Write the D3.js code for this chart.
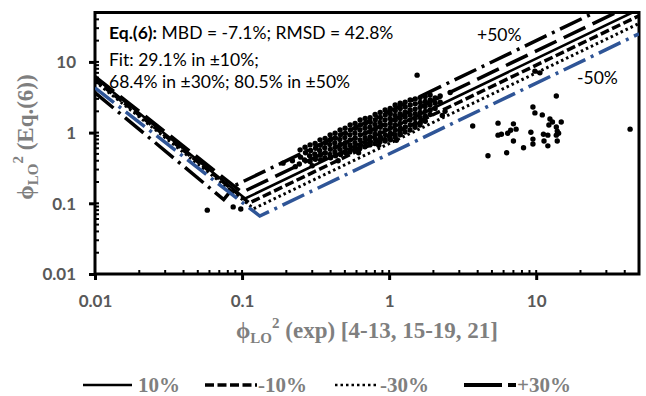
<!DOCTYPE html>
<html>
<head>
<meta charset="utf-8">
<script src="https://cdn.jsdelivr.net/npm/d3@7"></script>
<style>
  body { margin: 0; background: #fff; }
  svg { display: block; }
</style>
</head>
<body>
<div id="chart"></div>
<script>
// Tick values
const majorTicks = [0.01, 0.1, 1, 10];

// Band lines (V shaped, as drawn in the source figure) [x, y]
const plus50 = [[0.01, 3.67], [0.075, 0.113], [0.09, 0.18], [25, 50]];
const plus30 = [[0.01, 6.2], [0.1, 0.143], [35, 50]];
const plus10 = [[0.01, 6.0], [0.105, 0.117], [45, 50]];
const minus10 = [[0.01, 5.6], [0.112, 0.101], [50, 45]];
const minus30 = [[0.01, 5.3], [0.12, 0.084], [50, 35]];
const minus50 = [[0.01, 4.3], [0.132, 0.066], [50, 25]];

// Scattered points [exp, Eq.(6)]
const outliers = [
  [0.058, 0.08], [0.087, 0.089], [0.098, 0.083], [0.19, 0.37], [0.22, 0.40],
  [0.23, 0.33], [0.30, 0.34], [0.45, 0.40], [0.62, 0.52], [0.85, 0.66],
  [1.12, 0.78], [2.4, 2.0], [2.6, 3.7], [2.3, 1.75],
  [1.55, 6.5], [3.7, 1.24], [10.6, 7.0], [9.8, 7.4], [43.5, 1.12],
  [13.7, 3.3], [9.5, 2.3], [9.8, 1.9], [11, 1.78], [12.4, 1.56], [12.9, 1.41],
  [12.2, 1.28], [13.7, 1.2], [14.8, 1.41], [13.9, 1.05], [14.2, 0.98],
  [13.7, 0.92], [13.9, 0.76], [12.0, 0.92], [11.2, 0.95], [11.3, 0.76],
  [12.0, 0.65], [9.5, 0.81], [9.5, 0.69], [9.2, 1.01], [8.2, 0.61],
  [7.0, 0.76], [6.3, 0.52], [7.3, 1.12], [7.0, 1.33], [6.7, 1.08],
  [6.4, 0.98], [5.8, 0.95], [5.5, 0.92], [5.5, 1.36], [4.7, 0.47]
];

// Dense cloud, column by column
const cloud = [
  [0.248, 0.57], [0.25, 0.45], [0.245, 0.36],
  [0.268, 0.62], [0.27, 0.52], [0.266, 0.41],
  [0.29, 0.67], [0.292, 0.56], [0.288, 0.47], [0.29, 0.39],
  [0.314, 0.70], [0.316, 0.60], [0.312, 0.50], [0.315, 0.42],
  [0.339, 0.79], [0.34, 0.66], [0.337, 0.56], [0.34, 0.48], [0.342, 0.41],
  [0.367, 0.83], [0.369, 0.72], [0.365, 0.61], [0.368, 0.52], [0.366, 0.44],
  [0.397, 0.93], [0.399, 0.80], [0.395, 0.68], [0.398, 0.58], [0.396, 0.49], [0.40, 0.44],
  [0.429, 0.98], [0.431, 0.84], [0.427, 0.72], [0.43, 0.62], [0.428, 0.53], [0.432, 0.47],
  [0.464, 1.09], [0.466, 0.93], [0.462, 0.80], [0.465, 0.68], [0.463, 0.58], [0.467, 0.49],
  [0.502, 1.15], [0.504, 0.98], [0.50, 0.85], [0.503, 0.72], [0.501, 0.62], [0.505, 0.52],
  [0.543, 1.28], [0.545, 1.09], [0.541, 0.93], [0.544, 0.79], [0.542, 0.67], [0.546, 0.57], [0.54, 0.53],
  [0.587, 1.35], [0.589, 1.15], [0.585, 0.98], [0.588, 0.84], [0.586, 0.72], [0.59, 0.61], [0.584, 0.57],
  [0.635, 1.51], [0.637, 1.28], [0.633, 1.09], [0.636, 0.93], [0.634, 0.79], [0.638, 0.67], [0.632, 0.60],
  [0.687, 1.58], [0.689, 1.35], [0.685, 1.15], [0.688, 0.98], [0.686, 0.84], [0.69, 0.72], [0.684, 0.63],
  [0.742, 1.62], [0.744, 1.40], [0.74, 1.19], [0.743, 1.02], [0.741, 0.87], [0.745, 0.75], [0.739, 0.67],
  [0.803, 1.80], [0.805, 1.52], [0.801, 1.30], [0.804, 1.11], [0.802, 0.95], [0.806, 0.81], [0.80, 0.70],
  [0.869, 1.93], [0.871, 1.64], [0.867, 1.39], [0.87, 1.19], [0.868, 1.00], [0.872, 0.86], [0.866, 0.74],
  [0.939, 2.09], [0.941, 1.78], [0.937, 1.51], [0.94, 1.28], [0.938, 1.09], [0.942, 0.93], [0.936, 0.80], [0.94, 0.76],
  [1.016, 2.20], [1.018, 1.85], [1.014, 1.58], [1.017, 1.35], [1.015, 1.15], [1.019, 0.98], [1.013, 0.84], [1.02, 0.79],
  [1.099, 2.46], [1.101, 2.05], [1.097, 1.75], [1.10, 1.49], [1.098, 1.27], [1.102, 1.08], [1.096, 0.93], [1.10, 0.86],
  [1.188, 2.60], [1.19, 2.20], [1.186, 1.85], [1.189, 1.58], [1.187, 1.35], [1.191, 1.15], [1.185, 0.98], [1.19, 0.93],
  [1.285, 2.70], [1.287, 2.30], [1.283, 1.95], [1.286, 1.66], [1.284, 1.42], [1.288, 1.20], [1.282, 1.02],
  [1.389, 2.89], [1.391, 2.46], [1.387, 2.09], [1.39, 1.77], [1.388, 1.51], [1.392, 1.28], [1.386, 1.09],
  [1.503, 3.00], [1.505, 2.55], [1.501, 2.15], [1.504, 1.85], [1.502, 1.58], [1.506, 1.35], [1.50, 1.19],
  [1.625, 3.13], [1.627, 2.66], [1.623, 2.27], [1.626, 1.93], [1.624, 1.64], [1.628, 1.39], [1.622, 1.28],
  [1.758, 3.25], [1.76, 2.75], [1.756, 2.35], [1.759, 2.00], [1.757, 1.70], [1.761, 1.45],
  [1.90, 3.40], [1.902, 2.90], [1.898, 2.45], [1.901, 2.09], [1.899, 1.80],
  [2.055, 3.10], [2.057, 2.60], [2.053, 2.20],
  [2.223, 3.30], [2.225, 2.70]
];

const svg = d3.select('#chart').append('svg')
  .attr('width', 646)
  .attr('height', 396);

const x = d3.scaleLog().domain([0.01, 50]).range([95, 639]);
const y = d3.scaleLog().domain([0.01, 50]).range([274, 12.5]);

const tickFill = '#595959';
const titleFill = '#7f7f7f';

// Minor ticks
const minor = x.ticks().filter(v => v <= 50);
svg.append('g').selectAll('line')
  .data(minor)
  .join('line')
  .attr('x1', d => x(d)).attr('x2', d => x(d))
  .attr('y1', 274).attr('y2', 270)
  .attr('stroke', '#000').attr('stroke-width', 2);
svg.append('g').selectAll('line')
  .data(y.ticks().filter(v => v <= 50))
  .join('line')
  .attr('x1', 95).attr('x2', 99)
  .attr('y1', d => y(d)).attr('y2', d => y(d))
  .attr('stroke', '#000').attr('stroke-width', 2);

// Axes (major ticks + labels)
const xAxis = svg.append('g')
  .attr('transform', 'translate(0,274)')
  .call(d3.axisBottom(x).tickValues(majorTicks).tickSize(6).tickFormat(d => String(d)));
const yAxis = svg.append('g')
  .attr('transform', 'translate(95,0)')
  .call(d3.axisLeft(y).tickValues(majorTicks).tickSize(6).tickFormat(d => String(d)));
[xAxis, yAxis].forEach(a => {
  a.select('.domain').remove();
  a.selectAll('line').attr('stroke', '#000').attr('stroke-width', 3);
  a.selectAll('text')
    .attr('fill', tickFill)
    .attr('font-family', 'Lato, sans-serif')
    .attr('font-weight', 'bold')
    .attr('font-size', '17px');
});
xAxis.selectAll('text').attr('dy', null).attr('y', 33);
yAxis.selectAll('text').attr('x', -19).attr('dy', '0.35em');

// Frame
svg.append('rect')
  .attr('x', 95).attr('y', 12.5)
  .attr('width', 639 - 95).attr('height', 274 - 12.5)
  .attr('fill', 'none')
  .attr('stroke', '#000')
  .attr('stroke-width', 3);

svg.append('clipPath').attr('id', 'plot-clip')
  .append('rect').attr('x', 95).attr('y', 12.5).attr('width', 544).attr('height', 261.5);

const line = d3.line().x(d => x(d[0])).y(d => y(d[1]));

const styles = [
  { data: plus50, color: '#000', width: 3.5, dash: '24,6,3,6' },
  { data: plus30, color: '#000', width: 3.5, dash: '24,8' },
  { data: plus10, color: '#000', width: 2.5, dash: null },
  { data: minus10, color: '#000', width: 3.5, dash: '9,3.5' },
  { data: minus30, color: '#000', width: 3, dash: '2.5,3' },
  { data: minus50, color: '#2f5597', width: 3.5, dash: '24,6,3,6' }
];

const plot = svg.append('g').attr('clip-path', 'url(#plot-clip)');

plot.selectAll('path.band')
  .data(styles)
  .join('path')
  .attr('class', 'band')
  .attr('d', d => line(d.data))
  .attr('fill', 'none')
  .attr('stroke', d => d.color)
  .attr('stroke-width', d => d.width)
  .attr('stroke-dasharray', d => d.dash);

plot.selectAll('circle')
  .data(cloud.concat(outliers))
  .join('circle')
  .attr('cx', d => x(d[0]))
  .attr('cy', d => y(d[1]))
  .attr('r', 2.7)
  .attr('fill', '#000');

// Annotation
const note = svg.append('g')
  .attr('font-family', 'Lato, sans-serif')
  .attr('font-size', '17.5px')
  .attr('fill', '#000');
const l1 = note.append('text').attr('x', 109).attr('y', 39);
l1.append('tspan').attr('font-weight', 'bold').text('Eq.(6):');
l1.append('tspan').text(' MBD = -7.1%; RMSD = 42.8%');
note.append('text').attr('x', 109).attr('y', 66).text('Fit: 29.1% in ±10%;');
note.append('text').attr('x', 109).attr('y', 88).text('68.4% in ±30%; 80.5% in ±50%');
note.append('text').attr('x', 477).attr('y', 41).text('+50%');
note.append('text').attr('x', 577).attr('y', 84).text('-50%');

// Axis titles
function phiTitle(sel, rest) {
  sel.append('tspan').text('ϕ');
  sel.append('tspan').attr('font-size', '15px').attr('dy', '5').text('LO');
  sel.append('tspan').attr('font-size', '15px').attr('dy', '-15').text('2');
  sel.append('tspan').attr('dy', '10').text(rest);
}
const xt = svg.append('text')
  .attr('x', 367).attr('y', 338)
  .attr('text-anchor', 'middle')
  .attr('font-family', '"Liberation Serif", serif')
  .attr('font-weight', 'bold')
  .attr('font-size', '23px')
  .attr('fill', titleFill);
phiTitle(xt, ' (exp) [4-13, 15-19, 21]');

const yt = svg.append('text')
  .attr('transform', 'translate(33,137) rotate(-90)')
  .attr('text-anchor', 'middle')
  .attr('font-family', '"Liberation Serif", serif')
  .attr('font-weight', 'bold')
  .attr('font-size', '23px')
  .attr('fill', titleFill);
phiTitle(yt, ' (Eq.(6))');

// Legend
const legendItems = [
  { label: '10%', x1: 83, x2: 132, tx: 138, width: 2.5, dash: null },
  { label: '-10%', x1: 205, x2: 257, tx: 258, width: 3.5, dash: '9,3.5' },
  { label: '-30%', x1: 335, x2: 377, tx: 380, width: 2.5, dash: '2.5,3' },
  { label: '+30%', x1: 464, x2: 516, tx: 517, width: 4, dash: '38,6' }
];
const legend = svg.append('g');
legend.selectAll('line')
  .data(legendItems)
  .join('line')
  .attr('x1', d => d.x1).attr('x2', d => d.x2)
  .attr('y1', 385).attr('y2', 385)
  .attr('stroke', '#000')
  .attr('stroke-width', d => d.width)
  .attr('stroke-dasharray', d => d.dash);
legend.selectAll('text')
  .data(legendItems)
  .join('text')
  .attr('x', d => d.tx).attr('y', 392)
  .attr('font-family', '"Liberation Serif", serif')
  .attr('font-weight', 'bold')
  .attr('font-size', '21px')
  .attr('fill', titleFill)
  .text(d => d.label);
</script>
</body>
</html>
